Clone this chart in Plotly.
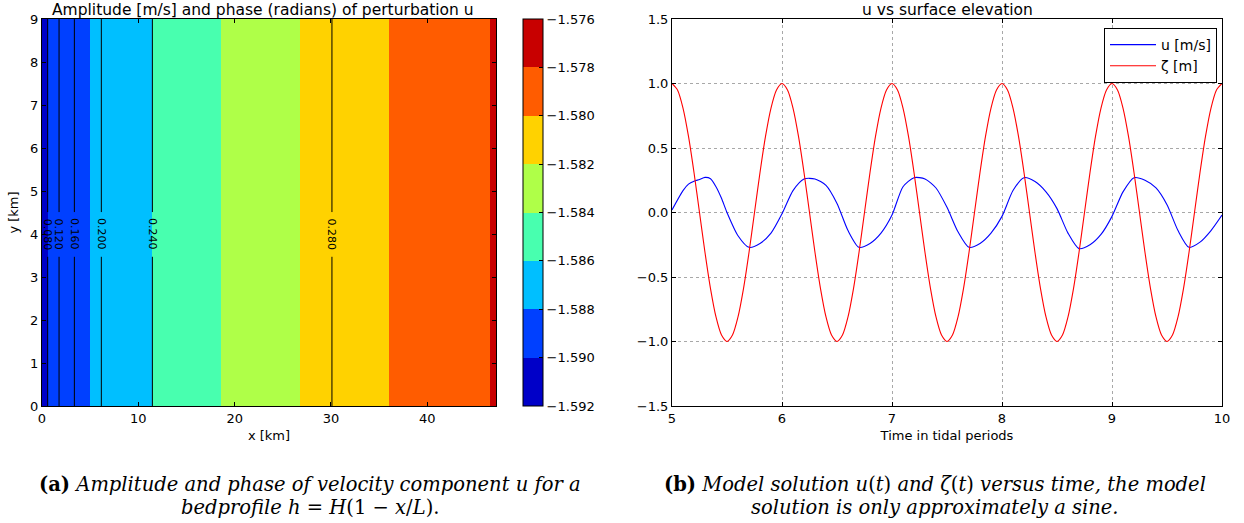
import plotly.graph_objects as go

# ---------------- data: left panel (phase bands + amplitude contours) ----------------
phase_band_edges_x = [0.0, 0.59, 4.99, 11.46, 18.6, 26.8, 36.05, 46.55, 47.13]
phase_band_values = [-1.591, -1.589, -1.587, -1.585, -1.583, -1.581, -1.579, -1.577]
y_extent = [0.0, 9.0]
phase_levels = [-1.592, -1.590, -1.588, -1.586, -1.584, -1.582, -1.580, -1.578, -1.576]
band_colors = ["#0000c8", "#0040ff", "#00bfff", "#48ffaf",
               "#afff48", "#ffd200", "#ff5c00", "#c80000"]

# x position (km) where each amplitude contour level lies
amp_contour_x = [0.59, 1.77, 3.36, 6.16, 11.46, 30.1]
amp_contour_levels = [0.08, 0.12, 0.16, 0.20, 0.24, 0.28]

# ---------------- data: right panel (time series) ----------------
t_u = [5.0, 5.1, 5.15, 5.2, 5.25, 5.3, 5.35, 5.4, 5.45, 5.5, 5.6, 5.7, 5.8, 5.9,
       6.0, 6.1, 6.2, 6.3, 6.4, 6.5, 6.6, 6.7, 6.8, 6.9,
       7.0, 7.1, 7.2, 7.3, 7.4, 7.5, 7.6, 7.7, 7.8, 7.9,
       8.0, 8.1, 8.2, 8.3, 8.4, 8.5, 8.6, 8.7, 8.8, 8.9,
       9.0, 9.1, 9.2, 9.3, 9.4, 9.5, 9.6, 9.7, 9.8, 9.9, 10.0]
u_vals = [0.02, 0.17, 0.22, 0.243, 0.256, 0.272, 0.262, 0.20, 0.11, 0.00, -0.18, -0.27, -0.24, -0.16,
          -0.01, 0.17, 0.26, 0.26, 0.21, 0.07, -0.14, -0.27, -0.24, -0.16,
          -0.02, 0.20, 0.27, 0.26, 0.19, 0.04, -0.15, -0.27, -0.24, -0.16,
          -0.03, 0.17, 0.27, 0.24, 0.16, 0.03, -0.16, -0.28, -0.25, -0.17,
          -0.03, 0.16, 0.27, 0.25, 0.19, 0.06, -0.14, -0.27, -0.23, -0.14, -0.02]

t_zeta = [5.0, 5.05, 5.1, 5.15, 5.2, 5.25, 5.3, 5.35, 5.4, 5.45,
          5.5, 5.55, 5.6, 5.65, 5.7, 5.75, 5.8, 5.85, 5.9, 5.95,
          6.0, 6.05, 6.1, 6.15, 6.2, 6.25, 6.3, 6.35, 6.4, 6.45,
          6.5, 6.55, 6.6, 6.65, 6.7, 6.75, 6.8, 6.85, 6.9, 6.95,
          7.0, 7.05, 7.1, 7.15, 7.2, 7.25, 7.3, 7.35, 7.4, 7.45,
          7.5, 7.55, 7.6, 7.65, 7.7, 7.75, 7.8, 7.85, 7.9, 7.95,
          8.0, 8.05, 8.1, 8.15, 8.2, 8.25, 8.3, 8.35, 8.4, 8.45,
          8.5, 8.55, 8.6, 8.65, 8.7, 8.75, 8.8, 8.85, 8.9, 8.95,
          9.0, 9.05, 9.1, 9.15, 9.2, 9.25, 9.3, 9.35, 9.4, 9.45,
          9.5, 9.55, 9.6, 9.65, 9.7, 9.75, 9.8, 9.85, 9.9, 9.95, 10.0]
zeta_vals = [1.0, 0.95, 0.81, 0.59, 0.31, 0.0, -0.31, -0.59, -0.81, -0.95,
             -1.0, -0.95, -0.81, -0.59, -0.31, 0.0, 0.31, 0.59, 0.81, 0.95,
             1.0, 0.95, 0.81, 0.59, 0.31, 0.0, -0.31, -0.59, -0.81, -0.95,
             -1.0, -0.95, -0.81, -0.59, -0.31, 0.0, 0.31, 0.59, 0.81, 0.95,
             1.0, 0.95, 0.81, 0.59, 0.31, 0.0, -0.31, -0.59, -0.81, -0.95,
             -1.0, -0.95, -0.81, -0.59, -0.31, 0.0, 0.31, 0.59, 0.81, 0.95,
             1.0, 0.95, 0.81, 0.59, 0.31, 0.0, -0.31, -0.59, -0.81, -0.95,
             -1.0, -0.95, -0.81, -0.59, -0.31, 0.0, 0.31, 0.59, 0.81, 0.95,
             1.0, 0.95, 0.81, 0.59, 0.31, 0.0, -0.31, -0.59, -0.81, -0.95,
             -1.0, -0.95, -0.81, -0.59, -0.31, 0.0, 0.31, 0.59, 0.81, 0.95, 1.0]

# ---------------- layout geometry ----------------
W, H = 1244, 523
def px_x(p): return p / W
def px_y(p): return 1 - p / H

ydom = [px_y(406), px_y(19)]
left_dom = [px_x(42), px_x(496)]
right_dom = [px_x(672), px_x(1222)]
FONT = "DejaVu Sans"
CAPFONT = "DejaVu Serif"
CAPSIZE = 19.5
LABEL_GAP = (3.47, 4.51)
LABEL_Y = 3.99

# stepped colorscale
n = len(band_colors)
cscale = []
for i, c in enumerate(band_colors):
    cscale.append([i / n, c])
    cscale.append([(i + 1) / n, c])

fig = go.Figure()

fig.add_trace(go.Heatmap(
    x=phase_band_edges_x, y=y_extent, z=[phase_band_values],
    zmin=phase_levels[0], zmax=phase_levels[-1], colorscale=cscale,
    xaxis="x", yaxis="y", hoverinfo="skip", showlegend=False,
    colorbar=dict(
        x=px_x(523), xanchor="left", xpad=0, thickness=20, thicknessmode="pixels",
        y=ydom[0], yanchor="bottom", ypad=0, len=ydom[1] - ydom[0], lenmode="fraction",
        outlinewidth=1, outlinecolor="black",
        tickvals=phase_levels, tickformat=".3f", ticks="inside", ticklen=4,
        tickcolor="black", tickfont=dict(family=FONT, size=13, color="black"),
    ),
))

# amplitude contour lines (vertical), broken where the inline labels sit
cx, cy = [], []
for xc in amp_contour_x:
    cx += [xc, xc, None, xc, xc, None]
    cy += [y_extent[0], LABEL_GAP[0], None, LABEL_GAP[1], y_extent[1], None]
fig.add_trace(go.Scatter(
    x=cx, y=cy, mode="lines", line=dict(color="black", width=1),
    xaxis="x", yaxis="y", showlegend=False, hoverinfo="skip",
))

fig.add_trace(go.Scatter(
    x=t_u, y=u_vals, mode="lines", name="u [m/s]",
    line=dict(color="#0000ff", width=1.1, shape="spline", smoothing=0.7),
    xaxis="x2", yaxis="y2",
))
fig.add_trace(go.Scatter(
    x=t_zeta, y=zeta_vals, mode="lines", name="ζ [m]",
    line=dict(color="#ff0000", width=1.1, shape="spline", smoothing=0.7),
    xaxis="x2", yaxis="y2",
))

axis_common = dict(showline=True, linecolor="black", linewidth=1, mirror="allticks",
                   ticks="inside", ticklen=4, tickcolor="black", zeroline=False,
                   tickfont=dict(family=FONT, size=13, color="black"))

fig.update_layout(
    width=W, height=H, margin=dict(l=0, r=0, t=0, b=0, autoexpand=False),
    paper_bgcolor="white", plot_bgcolor="white", showlegend=True,
    font=dict(family=FONT, color="black"),
    xaxis=dict(domain=left_dom, range=[0, 47.13], tickvals=[0, 10, 20, 30, 40],
               showgrid=False, title=dict(text="x [km]", standoff=6,
                                          font=dict(family=FONT, size=13)),
               anchor="y", **axis_common),
    yaxis=dict(domain=ydom, range=[0, 9], dtick=1, showgrid=False,
               title=dict(text="y [km]", standoff=8, font=dict(family=FONT, size=13)),
               anchor="x", **axis_common),
    xaxis2=dict(domain=right_dom, range=[5, 10], dtick=1, showgrid=True,
                gridcolor="#a8a8a8", griddash="dot", gridwidth=1,
                title=dict(text="Time in tidal periods", standoff=6,
                           font=dict(family=FONT, size=13)),
                anchor="y2", **axis_common),
    yaxis2=dict(domain=ydom, range=[-1.5, 1.5], dtick=0.5, tickformat=".1f",
                showgrid=True, gridcolor="#a8a8a8", griddash="dot", gridwidth=1,
                anchor="x2", **axis_common),
    legend=dict(x=px_x(1217), xanchor="right", y=px_y(28), yanchor="top",
                bgcolor="white", bordercolor="black", borderwidth=1,
                font=dict(family=FONT, size=14, color="black"),
                tracegroupgap=0, itemwidth=46),
)

annotations = [
    dict(text="Amplitude [m/s] and phase (radians) of perturbation u",
         x=(left_dom[0] + left_dom[1]) / 2 - 0.005, y=ydom[1], xref="paper", yref="paper",
         xanchor="center", yanchor="bottom", yshift=-2, showarrow=False,
         font=dict(family=FONT, size=15.5, color="black")),
    dict(text="u vs surface elevation",
         x=(right_dom[0] + right_dom[1]) / 2, y=ydom[1], xref="paper", yref="paper",
         xanchor="center", yanchor="bottom", yshift=-2, showarrow=False,
         font=dict(family=FONT, size=15.5, color="black")),
    dict(text="<b>(a)</b> <i>Amplitude and phase of velocity component u for a</i>",
         x=px_x(310), y=px_y(484), xref="paper", yref="paper", xanchor="center",
         yanchor="middle", showarrow=False,
         font=dict(family=CAPFONT, size=CAPSIZE, color="black")),
    dict(text="<i>bedprofile h</i> = <i>H</i>(1 − <i>x</i>/<i>L</i>).",
         x=px_x(310), y=px_y(507), xref="paper", yref="paper", xanchor="center",
         yanchor="middle", showarrow=False,
         font=dict(family=CAPFONT, size=CAPSIZE, color="black")),
    dict(text="<b>(b)</b> <i>Model solution u</i>(<i>t</i>) <i>and ζ</i>(<i>t</i>) <i>versus time, the model</i>",
         x=px_x(935), y=px_y(484), xref="paper", yref="paper", xanchor="center",
         yanchor="middle", showarrow=False,
         font=dict(family=CAPFONT, size=CAPSIZE, color="black")),
    dict(text="<i>solution is only approximately a sine.</i>",
         x=px_x(935), y=px_y(507), xref="paper", yref="paper", xanchor="center",
         yanchor="middle", showarrow=False,
         font=dict(family=CAPFONT, size=CAPSIZE, color="black")),
]
for xc, lvl in zip(amp_contour_x, amp_contour_levels):
    annotations.append(dict(
        text=f"{lvl:.3f}", x=xc, y=LABEL_Y, xref="x", yref="y",
        textangle=90, showarrow=False, xanchor="center", yanchor="middle",
        font=dict(family=FONT, size=11, color="black")))
fig.update_layout(annotations=annotations)

fig.write_html("out.html", config={"displayModeBar": False},
               post_script="document.body.style.margin='0';")
